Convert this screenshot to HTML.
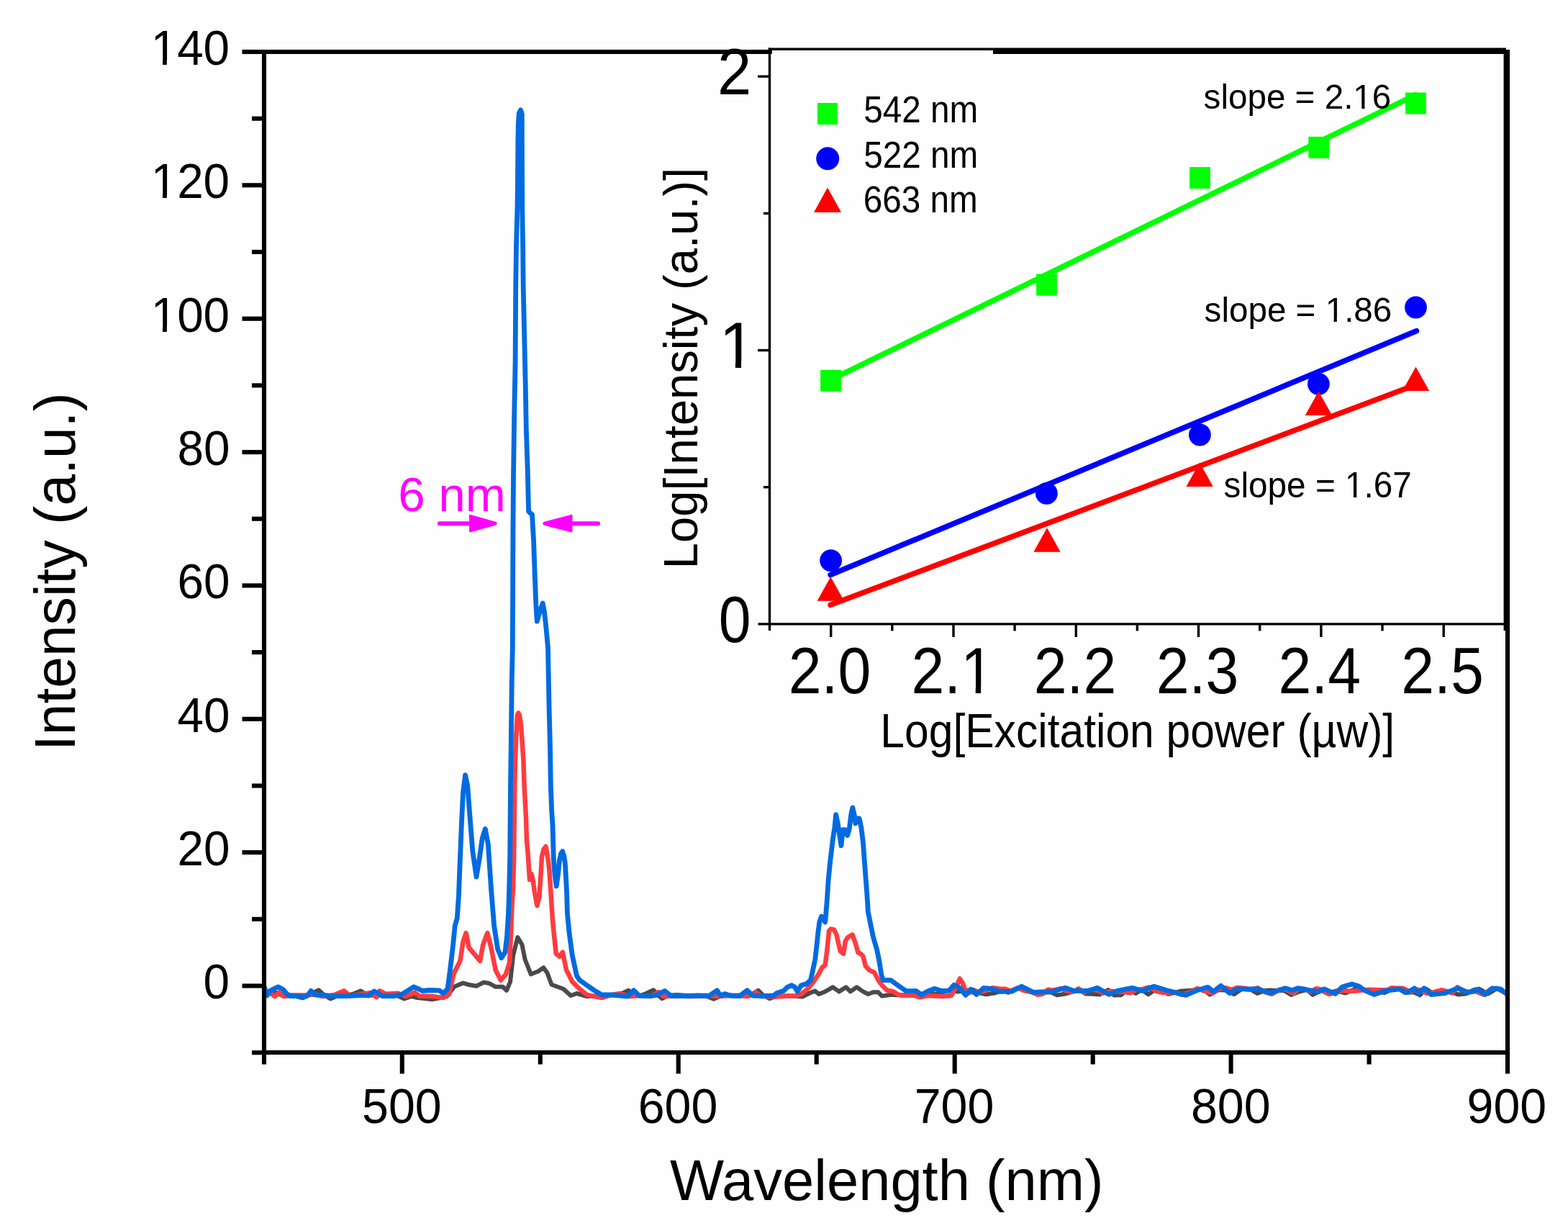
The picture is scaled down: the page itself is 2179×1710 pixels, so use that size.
<!DOCTYPE html>
<html><head><meta charset="utf-8"><title>Spectrum</title>
<style>html,body{margin:0;padding:0;background:#fefefe;overflow:hidden;}svg{display:block;}text{font-family:"Liberation Sans", Arial, sans-serif;}</style></head><body>
<svg width="2179" height="1710" viewBox="0 0 2179 1710">
<rect x="0" y="0" width="2179" height="1710" fill="#fefefe"/>
<g fill="none" stroke-linejoin="round" stroke-linecap="round">
<polyline stroke="#4a4a4a" stroke-width="6.0" points="367.7,1380.0 382.0,1378.6 395.0,1384.0 408.0,1383.0 420.6,1386.3 432.0,1381.0 442.7,1375.3 450.0,1382.0 459.2,1387.4 470.0,1383.0 480.0,1383.0 490.0,1381.0 501.1,1376.4 510.0,1382.0 520.0,1383.0 540.0,1382.0 552.0,1383.0 561.8,1387.4 572.0,1384.0 580.0,1386.0 600.5,1388.2 612.0,1386.0 621.0,1384.0 631.2,1370.8 643.5,1365.6 652.0,1368.0 662.0,1369.7 672.2,1364.6 680.0,1366.0 688.6,1370.8 698.9,1370.8 704.0,1375.9 709.1,1363.6 713.2,1326.7 719.4,1302.1 725.5,1312.3 729.6,1332.8 737.8,1353.3 748.1,1349.2 755.2,1344.1 760.4,1351.3 766.5,1367.7 774.7,1370.8 782.9,1373.8 793.2,1383.0 801.4,1380.0 815.7,1384.0 840.0,1383.0 860.0,1382.0 873.4,1375.8 880.0,1383.0 890.0,1383.0 898.0,1380.0 908.1,1375.2 914.0,1382.0 920.0,1387.2 928.0,1383.0 940.0,1382.0 955.0,1383.0 970.0,1384.0 980.0,1383.0 991.7,1387.8 1000.0,1384.0 1010.0,1382.0 1020.0,1383.0 1035.0,1382.0 1045.0,1382.0 1053.8,1375.8 1060.0,1382.0 1069.3,1387.2 1080.0,1383.6 1100.0,1383.6 1115.1,1384.5 1125.7,1379.2 1132.7,1376.6 1138.0,1381.0 1146.7,1377.4 1157.3,1371.3 1166.0,1377.4 1175.7,1371.3 1181.8,1377.4 1190.6,1371.3 1199.4,1377.4 1206.4,1381.0 1213.5,1378.3 1220.5,1378.3 1225.7,1383.6 1238.0,1381.8 1255.6,1382.7 1273.2,1376.6 1280.0,1381.0 1290.0,1377.9 1300.4,1381.3 1310.2,1378.3 1320.7,1374.7 1330.7,1377.6 1342.5,1376.2 1351.3,1374.6 1363.2,1379.8 1370.4,1381.4 1383.2,1379.3 1393.9,1375.4 1401.0,1378.8 1408.4,1375.3 1416.8,1372.6 1426.6,1376.9 1438.7,1379.0 1449.5,1378.7 1460.5,1378.2 1469.1,1382.4 1482.1,1380.2 1493.4,1376.6 1501.7,1376.3 1509.2,1380.6 1518.6,1380.7 1527.9,1381.6 1540.0,1375.1 1548.2,1382.5 1558.0,1382.2 1567.4,1373.5 1578.2,1379.9 1586.8,1374.5 1595.8,1381.4 1607.4,1373.3 1615.8,1373.9 1623.2,1380.8 1631.3,1379.3 1641.0,1376.7 1652.3,1376.1 1663.2,1374.6 1672.7,1374.6 1681.4,1381.6 1693.2,1375.1 1705.5,1375.7 1714.8,1381.3 1725.7,1373.8 1738.6,1374.9 1747.2,1379.9 1756.2,1376.5 1763.6,1375.4 1774.1,1376.0 1784.7,1376.1 1794.4,1382.0 1804.3,1377.9 1816.5,1374.9 1824.4,1381.9 1836.4,1375.7 1844.5,1380.2 1857.1,1376.3 1869.8,1379.6 1880.5,1374.9 1888.1,1372.1 1900.9,1376.3 1912.1,1377.3 1924.0,1379.1 1932.8,1375.0 1944.1,1373.6 1952.5,1379.0 1964.6,1378.3 1973.3,1382.4 1981.5,1373.5 1990.1,1379.2 1997.5,1376.6 2006.7,1379.9 2014.5,1377.2 2026.8,1381.6 2037.8,1380.3 2048.3,1375.0 2055.5,1373.6 2067.9,1380.5 2080.7,1373.0 2093.5,1380.0"/>
<polyline stroke="#ff3c40" stroke-width="6.5" points="367.7,1377.5 373.2,1377.5 382.0,1384.1 387.6,1378.6 394.2,1384.1 404.1,1382.4 426.2,1382.4 437.2,1381.3 448.2,1384.1 464.7,1381.9 478.0,1376.4 486.8,1383.6 503.3,1380.8 514.4,1379.1 523.2,1385.2 527.6,1376.4 536.4,1380.8 553.0,1379.7 564.0,1384.1 576.1,1378.6 582.7,1383.6 600.5,1384.0 615.9,1386.1 624.1,1381.0 630.2,1353.3 639.4,1334.9 643.5,1308.2 647.6,1296.0 651.7,1316.4 656.9,1322.6 662.0,1328.7 667.1,1334.9 671.2,1312.3 677.4,1296.0 682.5,1316.4 688.6,1347.2 695.8,1361.5 703.0,1353.3 708.1,1337.0 710.3,1290.0 711.6,1256.0 713.0,1235.0 714.2,1188.0 715.3,1090.0 716.0,1056.0 717.2,1025.0 718.2,1005.0 719.0,993.0 720.3,990.5 721.8,993.0 723.5,1003.0 724.5,1015.0 725.3,1025.0 727.4,1056.0 728.5,1090.0 729.9,1116.0 730.9,1134.0 732.0,1168.0 733.2,1181.0 734.9,1204.0 736.0,1222.0 738.5,1214.0 740.5,1222.0 743.0,1240.0 746.4,1258.0 749.5,1245.0 751.5,1215.0 753.0,1190.0 755.5,1180.0 758.5,1176.0 761.0,1190.0 763.2,1206.0 765.3,1237.5 767.4,1270.0 768.6,1285.7 772.7,1324.6 777.8,1328.7 781.9,1322.6 787.0,1347.2 795.2,1363.6 805.5,1373.8 815.7,1382.0 836.2,1386.1 850.0,1382.0 862.0,1380.0 875.0,1384.0 890.0,1383.0 905.0,1384.0 915.0,1378.0 922.0,1384.0 940.0,1383.5 960.0,1384.0 980.0,1383.0 1000.0,1384.0 1020.0,1383.0 1040.0,1384.0 1050.0,1378.0 1058.0,1384.0 1070.0,1384.5 1080.0,1384.5 1094.0,1383.6 1106.3,1383.6 1113.4,1381.0 1122.1,1373.9 1130.9,1363.4 1137.9,1352.8 1142.3,1344.1 1146.7,1340.6 1149.4,1319.5 1152.0,1293.2 1154.6,1290.5 1159.0,1291.4 1162.5,1298.4 1165.2,1310.7 1167.8,1321.2 1172.2,1324.8 1174.8,1307.2 1178.3,1302.0 1184.5,1298.4 1188.9,1310.7 1192.4,1323.0 1195.9,1324.8 1199.4,1328.3 1202.9,1342.3 1208.2,1347.6 1215.2,1351.1 1220.5,1361.6 1225.7,1368.7 1232.8,1375.7 1241.5,1377.4 1248.6,1381.8 1255.6,1382.7 1269.6,1382.7 1278.4,1385.3 1290.0,1383.0 1310.0,1384.0 1322.0,1383.0 1328.0,1372.0 1333.8,1359.5 1338.0,1366.0 1343.0,1380.0 1350.0,1378.0 1357.0,1377.8 1364.3,1377.6 1371.1,1375.6 1379.4,1372.2 1388.5,1373.4 1397.2,1373.8 1404.1,1376.8 1414.7,1372.2 1422.4,1375.9 1433.6,1378.1 1442.1,1381.8 1448.8,1380.7 1456.8,1374.6 1463.8,1375.6 1474.4,1373.2 1483.8,1376.9 1492.2,1377.4 1499.0,1373.3 1506.5,1378.5 1515.2,1375.1 1524.6,1374.8 1532.6,1379.6 1542.6,1376.8 1552.0,1377.4 1562.8,1378.0 1570.8,1379.4 1577.9,1375.1 1588.2,1374.0 1597.1,1371.5 1606.9,1376.9 1616.3,1379.1 1624.4,1378.7 1633.9,1378.8 1642.6,1382.0 1653.9,1378.3 1663.7,1373.0 1673.7,1376.6 1685.2,1379.7 1693.1,1374.1 1702.9,1372.2 1711.7,1374.9 1718.8,1372.1 1729.2,1372.7 1736.9,1374.9 1747.7,1372.3 1756.5,1377.6 1767.4,1380.8 1778.2,1374.7 1786.8,1374.3 1797.7,1380.2 1805.0,1372.8 1812.6,1373.8 1821.6,1377.5 1829.4,1373.2 1838.0,1375.2 1847.3,1381.0 1857.3,1378.2 1866.8,1375.8 1873.6,1376.8 1884.0,1376.6 1894.5,1375.2 1903.0,1374.7 1912.7,1375.1 1919.5,1375.3 1926.8,1375.6 1933.6,1372.3 1940.8,1372.7 1949.2,1372.8 1960.0,1377.8 1967.3,1374.2 1975.5,1375.6 1982.6,1379.8 1994.1,1378.8 2003.0,1375.2 2010.0,1376.8 2017.8,1379.5 2025.2,1371.4 2036.4,1377.5 2043.6,1378.0 2050.3,1377.0 2061.7,1381.6 2071.6,1374.2 2080.0,1372.8 2093.5,1380.0"/>
<polyline stroke="#006be0" stroke-width="6.8" points="367.7,1372.0 371.0,1383.0 375.4,1376.4 386.5,1370.9 393.1,1374.2 398.6,1380.8 404.1,1383.6 415.1,1383.6 421.7,1385.2 427.3,1383.0 432.2,1376.4 437.2,1381.9 448.2,1381.9 459.2,1383.6 481.3,1383.6 492.3,1383.0 503.3,1382.4 512.2,1383.0 519.9,1376.9 525.4,1379.7 530.9,1383.6 547.4,1383.6 558.5,1381.3 566.2,1376.4 575.0,1370.9 582.7,1374.2 587.1,1376.5 596.4,1375.5 610.7,1375.9 615.9,1380.0 622.0,1373.8 625.0,1351.3 629.2,1316.4 632.3,1285.7 635.3,1275.5 637.4,1244.7 639.4,1193.5 641.5,1142.2 643.5,1101.2 646.6,1076.6 649.7,1091.0 652.8,1132.0 656.9,1183.2 662.0,1218.1 666.1,1193.5 670.2,1164.8 674.3,1151.5 678.4,1173.0 682.5,1234.5 686.6,1285.7 691.7,1318.5 696.8,1330.8 702.0,1322.6 704.5,1300.0 706.5,1270.0 707.7,1234.0 708.7,1188.0 709.5,1090.0 710.2,1038.7 711.2,950.0 712.3,900.0 712.6,825.0 712.9,743.0 713.5,664.0 714.6,582.0 716.1,502.0 716.7,400.0 717.5,340.0 718.9,290.0 719.4,258.0 719.8,200.0 720.3,172.0 721.3,157.0 723.5,152.8 725.3,158.0 725.4,200.0 725.5,233.0 725.7,286.0 726.6,340.0 727.2,400.0 728.7,467.0 730.2,535.0 731.3,596.0 733.1,649.0 734.6,710.5 739.5,715.0 741.6,751.5 743.1,795.4 744.8,839.4 746.3,863.0 750.0,850.0 754.2,838.0 756.5,850.0 758.6,869.0 761.5,900.0 763.0,980.0 764.5,1038.7 765.3,1090.0 766.6,1125.0 768.0,1147.0 769.3,1193.0 771.0,1215.0 773.2,1231.0 775.5,1215.0 777.5,1195.0 779.5,1186.0 781.7,1182.7 784.0,1190.0 785.4,1200.0 787.5,1237.5 788.5,1270.0 791.1,1296.0 795.2,1326.7 801.4,1355.4 805.5,1361.5 815.7,1368.7 826.0,1375.9 836.2,1382.0 850.0,1382.0 862.0,1383.0 872.0,1384.0 880.6,1375.8 888.0,1383.0 900.0,1383.5 912.0,1382.5 923.6,1376.4 932.0,1383.0 950.0,1383.5 970.0,1383.0 985.0,1383.5 996.5,1375.8 1001.0,1383.0 1007.2,1380.6 1015.0,1383.0 1028.0,1383.5 1038.3,1375.8 1046.0,1383.0 1060.0,1383.5 1075.0,1383.0 1080.0,1379.2 1088.8,1376.6 1094.0,1371.3 1100.2,1368.7 1104.6,1371.3 1108.1,1377.4 1113.4,1368.7 1120.4,1366.9 1126.5,1361.6 1129.2,1349.3 1132.7,1333.5 1135.3,1310.7 1137.1,1293.2 1138.8,1280.9 1141.5,1273.0 1146.7,1280.9 1147.6,1272.1 1149.4,1249.3 1151.1,1222.9 1153.7,1196.6 1157.3,1166.7 1159.9,1149.2 1161.7,1131.6 1164.3,1143.9 1166.9,1161.5 1169.0,1174.6 1171.3,1152.7 1174.8,1152.7 1177.5,1160.6 1180.1,1152.7 1182.7,1131.6 1184.8,1121.9 1187.1,1131.6 1188.9,1143.9 1191.5,1136.9 1194.1,1136.9 1196.8,1149.2 1199.4,1170.2 1202.0,1205.4 1204.7,1240.5 1206.4,1266.8 1209.9,1284.4 1213.5,1301.9 1218.7,1319.5 1222.2,1337.0 1224.9,1354.6 1227.5,1361.6 1238.0,1361.6 1245.1,1366.9 1253.8,1373.0 1259.1,1376.6 1273.2,1376.6 1280.2,1382.4 1288.3,1377.4 1298.4,1373.3 1308.5,1376.4 1318.6,1376.4 1325.7,1368.3 1332.8,1371.3 1341.9,1382.4 1348.9,1374.4 1357.0,1381.4 1367.1,1372.3 1377.2,1373.3 1389.3,1377.4 1405.5,1377.4 1419.7,1370.3 1435.8,1378.4 1462.1,1377.4 1480.3,1372.3 1492.4,1376.4 1512.6,1376.4 1524.8,1372.3 1540.9,1381.4 1553.1,1376.4 1573.3,1372.3 1587.4,1376.4 1603.6,1370.3 1623.8,1376.4 1648.0,1382.4 1664.2,1375.4 1678.4,1371.3 1686.4,1377.4 1696.5,1369.3 1708.9,1379.6 1718.6,1373.8 1747.5,1373.8 1764.9,1379.6 1786.1,1372.8 1795.8,1375.7 1803.5,1372.8 1832.4,1377.6 1840.1,1373.8 1855.6,1380.5 1865.2,1370.9 1878.7,1367.0 1888.4,1369.9 1896.1,1375.7 1909.6,1381.5 1923.1,1376.7 1944.3,1373.8 1955.9,1378.6 1965.5,1372.8 1971.3,1379.6 1979.0,1372.8 1988.7,1381.5 2008.0,1379.6 2025.4,1372.8 2040.8,1378.6 2054.3,1374.7 2063.9,1381.5 2073.6,1372.8 2085.2,1373.8 2093.5,1380.5"/>
</g>
<g stroke="#000" stroke-width="6.1" fill="none">
<line x1="367.0" y1="69.0" x2="367.0" y2="1465.0"/>
<line x1="364.0" y1="1462.0" x2="2098.0" y2="1462.0"/>
<line x1="2095.0" y1="69.0" x2="2095.0" y2="1465.0"/>
<line x1="364.0" y1="72.0" x2="1072.8" y2="72.0"/>
<line x1="1380.0" y1="72.0" x2="2098.0" y2="72.0"/>
</g>
<g stroke="#000" stroke-width="6.1" fill="none" stroke-linecap="butt">
<line x1="350.0" y1="1462.2" x2="367.0" y2="1462.2"/>
<line x1="336.5" y1="1369.5" x2="367.0" y2="1369.5"/>
<line x1="350.0" y1="1276.8" x2="367.0" y2="1276.8"/>
<line x1="336.5" y1="1184.1" x2="367.0" y2="1184.1"/>
<line x1="350.0" y1="1091.5" x2="367.0" y2="1091.5"/>
<line x1="336.5" y1="998.8" x2="367.0" y2="998.8"/>
<line x1="350.0" y1="906.1" x2="367.0" y2="906.1"/>
<line x1="336.5" y1="813.4" x2="367.0" y2="813.4"/>
<line x1="350.0" y1="720.7" x2="367.0" y2="720.7"/>
<line x1="336.5" y1="628.1" x2="367.0" y2="628.1"/>
<line x1="350.0" y1="535.4" x2="367.0" y2="535.4"/>
<line x1="336.5" y1="442.7" x2="367.0" y2="442.7"/>
<line x1="350.0" y1="350.0" x2="367.0" y2="350.0"/>
<line x1="336.5" y1="257.3" x2="367.0" y2="257.3"/>
<line x1="350.0" y1="164.7" x2="367.0" y2="164.7"/>
<line x1="336.5" y1="72.0" x2="367.0" y2="72.0"/>
<line x1="367.0" y1="1462.0" x2="367.0" y2="1478.5"/>
<line x1="558.8" y1="1462.0" x2="558.8" y2="1491.5"/>
<line x1="750.8" y1="1462.0" x2="750.8" y2="1478.5"/>
<line x1="942.7" y1="1462.0" x2="942.7" y2="1491.5"/>
<line x1="1134.7" y1="1462.0" x2="1134.7" y2="1478.5"/>
<line x1="1326.7" y1="1462.0" x2="1326.7" y2="1491.5"/>
<line x1="1518.7" y1="1462.0" x2="1518.7" y2="1478.5"/>
<line x1="1710.6" y1="1462.0" x2="1710.6" y2="1491.5"/>
<line x1="1902.6" y1="1462.0" x2="1902.6" y2="1478.5"/>
<line x1="2095.0" y1="1462.0" x2="2095.0" y2="1491.5"/>
</g>
<g fill="#000">
<g transform="translate(282.48,1387.30) scale(0.9650,1)"><text font-size="68.00">0</text></g>
<g transform="translate(246.39,1201.94) scale(0.9650,1)"><text font-size="68.00">20</text></g>
<g transform="translate(246.39,1016.58) scale(0.9650,1)"><text font-size="68.00">40</text></g>
<g transform="translate(246.39,831.22) scale(0.9650,1)"><text font-size="68.00">60</text></g>
<g transform="translate(246.39,645.86) scale(0.9650,1)"><text font-size="68.00">80</text></g>
<g transform="translate(209.64,460.50) scale(0.9650,1)"><text font-size="68.00">100</text><rect x="3.40" y="-6.53" width="13.53" height="7.34" fill="#fefefe"/><rect x="23.05" y="-6.53" width="13.19" height="7.34" fill="#fefefe"/></g>
<g transform="translate(209.64,275.14) scale(0.9650,1)"><text font-size="68.00">120</text><rect x="3.40" y="-6.53" width="13.53" height="7.34" fill="#fefefe"/><rect x="23.05" y="-6.53" width="13.19" height="7.34" fill="#fefefe"/></g>
<g transform="translate(209.64,89.78) scale(0.9650,1)"><text font-size="68.00">140</text><rect x="3.40" y="-6.53" width="13.53" height="7.34" fill="#fefefe"/><rect x="23.05" y="-6.53" width="13.19" height="7.34" fill="#fefefe"/></g>
<g transform="translate(503.12,1560.20) scale(0.9750,1)"><text font-size="68.00">500</text></g>
<g transform="translate(886.74,1560.20) scale(0.9750,1)"><text font-size="68.00">600</text></g>
<g transform="translate(1270.70,1560.20) scale(0.9750,1)"><text font-size="68.00">700</text></g>
<g transform="translate(1654.98,1560.20) scale(0.9750,1)"><text font-size="68.00">800</text></g>
<g transform="translate(2038.61,1560.20) scale(0.9750,1)"><text font-size="68.00">900</text></g>
</g>
<g fill="#000">
<g transform="translate(931.00,1667.00) scale(0.9940,1)"><text font-size="80.00">Wavelength (nm)</text></g>
<text transform="translate(103.80,1043.07) rotate(-90) scale(0.9820,1)" font-size="80.00">Intensity (a.u.)</text>
</g>
<text x="553.13" y="710.30" font-size="67.30" fill="#ff00ff">6 nm</text>
<g fill="#ff00ff" stroke="#ff00ff" stroke-width="6" stroke-linecap="round">
<line x1="611" y1="727.2" x2="660" y2="727.2"/>
<line x1="785" y1="727.2" x2="831" y2="727.2"/>
</g>
<g fill="#ff00ff">
<path d="M652,715.8 Q652,714.5 654,715 L689,724.8 Q692.5,727.2 689,729.6 L654,739.2 Q652,739.8 652,738.5 Z"/>
<path d="M795.5,715.8 Q795.5,714.5 793.5,715 L756,724.8 Q752.5,727.2 756,729.6 L793.5,739.2 Q795.5,739.8 795.5,738.5 Z"/>
</g>
<g stroke="#000" stroke-width="3.4" fill="none">
<line x1="1069.5" y1="66.5" x2="1069.5" y2="875.9"/>
<line x1="1053.5" y1="866.9" x2="2091.3" y2="866.9"/>
<line x1="1067.8" y1="68.2" x2="2093.0" y2="68.2"/>
<line x1="2091.3" y1="68.2" x2="2091.3" y2="875.9"/>
<line x1="1154.7" y1="866.9" x2="1154.7" y2="884.9"/>
<line x1="1239.8" y1="866.9" x2="1239.8" y2="876.4"/>
<line x1="1325.0" y1="866.9" x2="1325.0" y2="884.9"/>
<line x1="1410.1" y1="866.9" x2="1410.1" y2="876.4"/>
<line x1="1495.3" y1="866.9" x2="1495.3" y2="884.9"/>
<line x1="1580.4" y1="866.9" x2="1580.4" y2="876.4"/>
<line x1="1665.5" y1="866.9" x2="1665.5" y2="884.9"/>
<line x1="1750.7" y1="866.9" x2="1750.7" y2="876.4"/>
<line x1="1835.9" y1="866.9" x2="1835.9" y2="884.9"/>
<line x1="1921.0" y1="866.9" x2="1921.0" y2="876.4"/>
<line x1="2006.2" y1="866.9" x2="2006.2" y2="884.9"/>
<line x1="1061.0" y1="676.7" x2="1069.5" y2="676.7"/>
<line x1="1053.0" y1="486.6" x2="1069.5" y2="486.6"/>
<line x1="1061.0" y1="296.4" x2="1069.5" y2="296.4"/>
<line x1="1053.0" y1="106.2" x2="1069.5" y2="106.2"/>
</g>
<g fill="#000">
<g transform="translate(1095.74,962.90) scale(0.9120,1)"><text font-size="90.40">2.0</text></g>
<g transform="translate(1266.45,962.90) scale(0.9120,1)"><text font-size="90.40">2.1</text><rect x="79.91" y="-8.68" width="17.99" height="9.76" fill="#fefefe"/><rect x="106.03" y="-8.68" width="17.54" height="9.76" fill="#fefefe"/></g>
<g transform="translate(1436.75,962.90) scale(0.9120,1)"><text font-size="90.40">2.2</text></g>
<g transform="translate(1606.64,962.90) scale(0.9120,1)"><text font-size="90.40">2.3</text></g>
<g transform="translate(1776.53,962.90) scale(0.9120,1)"><text font-size="90.40">2.4</text></g>
<g transform="translate(1947.24,962.90) scale(0.9120,1)"><text font-size="90.40">2.5</text></g>
<g transform="translate(998.66,891.70) scale(0.8900,1)"><text font-size="90.40">0</text></g>
<g transform="translate(999.40,511.37) scale(1.0000,1)"><text font-size="90.40">1</text><rect x="4.52" y="-8.68" width="17.99" height="9.76" fill="#fefefe"/><rect x="30.65" y="-8.68" width="17.54" height="9.76" fill="#fefefe"/></g>
<g transform="translate(996.96,131.03) scale(0.9400,1)"><text font-size="90.40">2</text></g>
<g transform="translate(1223.35,1037.90) scale(0.9040,1)"><text font-size="67.00">Log[Excitation power (µw)]</text></g>
<text transform="translate(968.80,790.21) rotate(-90) scale(0.9720,1)" font-size="67.00">Log[Intensity (a.u.)]</text>
</g>
<g fill="none" stroke-width="7.6" stroke-linecap="round">
<line stroke="#00ff00" x1="1154.5" y1="527.5" x2="1967" y2="131.8"/>
<line stroke="#0000ff" x1="1154.1" y1="798.5" x2="1968.4" y2="459.7"/>
<line stroke="#ff0000" x1="1154.1" y1="840.3" x2="1967.5" y2="534.5"/>
</g>
<rect x="1140.1" y="513.8" width="28.8" height="30.0" fill="#00ff00"/>
<rect x="1440.1" y="380.6" width="28.8" height="30.0" fill="#00ff00"/>
<rect x="1653.1" y="232.1" width="28.8" height="30.0" fill="#00ff00"/>
<rect x="1818.3" y="189.9" width="28.8" height="30.0" fill="#00ff00"/>
<rect x="1953.0" y="128.5" width="28.8" height="30.0" fill="#00ff00"/>
<circle cx="1154.6" cy="778.6" r="15.4" fill="#0000ff"/>
<circle cx="1454.4" cy="685.4" r="15.4" fill="#0000ff"/>
<circle cx="1667.4" cy="604.0" r="15.4" fill="#0000ff"/>
<circle cx="1832.4" cy="533.3" r="15.4" fill="#0000ff"/>
<circle cx="1967.5" cy="427.0" r="15.4" fill="#0000ff"/>
<polygon points="1154.3,801.2 1135.6,834.7 1173.0,834.7" fill="#ff0000"/>
<polygon points="1455.0,733.3 1436.3,766.8 1473.7,766.8" fill="#ff0000"/>
<polygon points="1667.1,642.6 1648.4,676.1 1685.8,676.1" fill="#ff0000"/>
<polygon points="1832.4,543.4 1813.7,576.9 1851.1,576.9" fill="#ff0000"/>
<polygon points="1967.5,509.4 1948.8,542.9 1986.2,542.9" fill="#ff0000"/>
<rect x="1136" y="143" width="28" height="30" fill="#00ff00"/>
<circle cx="1150.2" cy="220.3" r="16" fill="#0000ff"/>
<polygon points="1150,260.5 1131,295 1169,295" fill="#ff0000"/>
<g fill="#000">
<g transform="translate(1200.19,169.80) scale(0.9270,1)"><text font-size="51.40">542 nm</text></g>
<g transform="translate(1200.19,233.00) scale(0.9270,1)"><text font-size="51.40">522 nm</text></g>
<g transform="translate(1199.72,295.00) scale(0.9270,1)"><text font-size="51.40">663 nm</text></g>
<g transform="translate(1672.57,151.00) scale(0.9740,1)"><text font-size="48.90">slope = 2.16</text><rect x="215.86" y="-4.69" width="9.73" height="5.28" fill="#fefefe"/><rect x="229.99" y="-4.69" width="9.49" height="5.28" fill="#fefefe"/></g>
<g transform="translate(1673.57,446.90) scale(0.9740,1)"><text font-size="48.90">slope = 1.86</text><rect x="175.07" y="-4.69" width="9.73" height="5.28" fill="#fefefe"/><rect x="189.20" y="-4.69" width="9.49" height="5.28" fill="#fefefe"/></g>
<g transform="translate(1700.57,691.30) scale(0.9700,1)"><text font-size="49.20">slope = 1.67</text><rect x="176.14" y="-4.72" width="9.79" height="5.31" fill="#fefefe"/><rect x="190.36" y="-4.72" width="9.54" height="5.31" fill="#fefefe"/></g>
</g>
</svg>
</body></html>
